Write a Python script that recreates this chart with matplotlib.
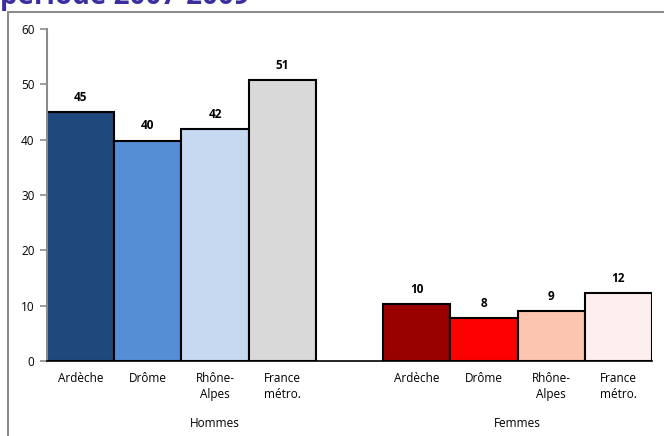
import matplotlib.pyplot as plt
from matplotlib.patches import Rectangle

plt.rcParams['font.family'] = ['Open Sans', 'DejaVu Sans']

categories = ["Ardèche", "Drôme", "Rhône-\nAlpes", "France\nmétro."]
groups = ["Hommes", "Femmes"]
hommes = [45.0, 39.8, 41.9, 50.8]
femmes = [10.3, 7.8, 9.0, 12.3]
hommes_labels = ["45", "40", "42", "51"]
femmes_labels = ["10", "8", "9", "12"]
hommes_colors = ["#1F497D", "#558ED5", "#C6D9F1", "#D9D9D9"]
femmes_colors = ["#990000", "#FF0000", "#FCC5AF", "#FFEEEE"]

fig = plt.figure(figsize=(6.64, 4.36), dpi=100)

# cadre gris autour du graphique
fig.patches.append(Rectangle((8 / 664, -0.1), 1.2, (436 - 12) / 436 + 0.1,
                             transform=fig.transFigure, fill=False,
                             edgecolor="#8C8C8C", linewidth=1.5))

# titre (coupé en haut comme dans l'original)
fig.text(0.0, 1 - 4 / 436, "période 2007-2009", color="#3B2E9E",
         fontsize=20, fontweight="bold", ha="left", va="baseline")

ax = fig.add_axes([47 / 664, (436 - 361) / 436, (652 - 47) / 664, (361 - 29) / 436])

x_h = [0, 1, 2, 3]
x_f = [5, 6, 7, 8]
ax.bar(x_h, hommes, width=1.0, color=hommes_colors, edgecolor="black", linewidth=1.5)
ax.bar(x_f, femmes, width=1.0, color=femmes_colors, edgecolor="black", linewidth=1.5)

for x, v, lab in zip(x_h + x_f, hommes + femmes, hommes_labels + femmes_labels):
    ax.text(x, v + 1.5, lab, ha="center", va="bottom", fontsize=8.5, fontweight="bold")

ax.set_xlim(-0.5, 8.5)
ax.set_ylim(0, 60)
ax.set_yticks(range(0, 61, 10))
ax.tick_params(axis="y", labelsize=8.5, color="#8C8C8C", length=5, width=1.2, pad=4)
ax.set_xticks(x_h + x_f)
ax.set_xticklabels(categories + categories, fontsize=8.5, linespacing=1.3)
ax.tick_params(axis="x", length=0, pad=8)

for s in ["top", "right"]:
    ax.spines[s].set_visible(False)
ax.spines["left"].set_color("#8C8C8C")
ax.spines["left"].set_linewidth(1.5)
ax.spines["bottom"].set_color("black")
ax.spines["bottom"].set_linewidth(1.2)

ax.text(2.0, -11.3, groups[0], ha="center", va="center", fontsize=8.5)
ax.text(6.5, -11.3, groups[1], ha="center", va="center", fontsize=8.5)

fig.savefig("out.png", dpi=100)
